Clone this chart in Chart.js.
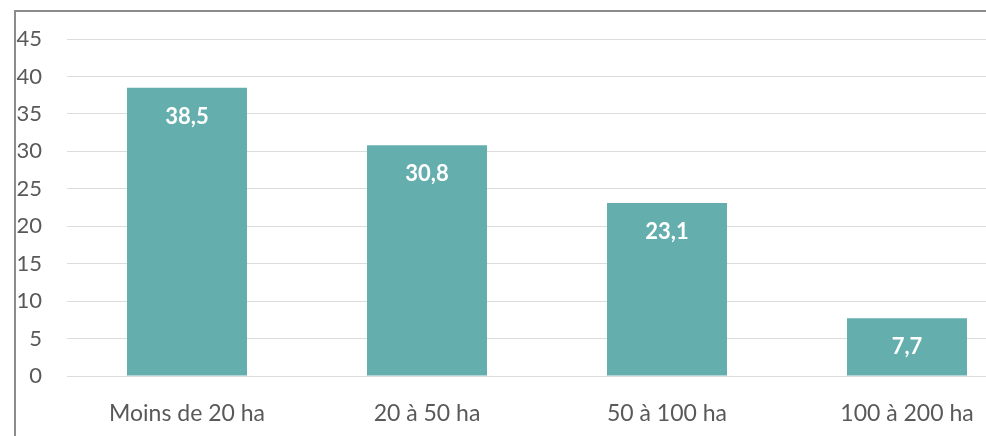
<!DOCTYPE html>
<html>
<head>
<meta charset="utf-8">
<script src="https://cdn.jsdelivr.net/npm/chart.js@4"></script>
<style>
  html, body { margin: 0; padding: 0; background: #fff; overflow: hidden; }
  #frame {
    position: absolute; left: 14px; top: 10px;
    width: 1100px; height: 500px;
    border-left: 2px solid #8c8c8c; border-top: 2px solid #8c8c8c;
  }
  #chart { position: absolute; left: 16px; top: 12px; }
</style>
</head>
<body>
<div id="frame"></div>
<canvas id="chart" width="1011" height="424"></canvas>
<script>
const categories = ["Moins de 20 ha", "20 à 50 ha", "50 à 100 ha", "100 à 200 ha"];
const shares = [38.5, 30.8, 23.1, 7.7];
const yTicks = [0, 5, 10, 15, 20, 25, 30, 35, 40, 45];

const fontFamily = "Lato, 'Open Sans', sans-serif";

// white value labels inside the top of each bar
const barLabels = {
  id: "barLabels",
  afterDatasetsDraw(chart) {
    const ctx = chart.ctx;
    const meta = chart.getDatasetMeta(0);
    ctx.save();
    ctx.fillStyle = "#ffffff";
    ctx.font = "bold 22px " + fontFamily;
    ctx.textAlign = "center";
    ctx.textBaseline = "middle";
    meta.data.forEach((bar, i) => {
      const txt = shares[i].toFixed(1).replace(".", ",");
      ctx.fillText(txt, bar.x, bar.y + 29);
    });
    ctx.restore();
  }
};

new Chart(document.getElementById("chart"), {
  type: "bar",
  data: {
    labels: categories,
    datasets: [
      {
        data: shares,
        backgroundColor: "#65AEAE",
        categoryPercentage: 1,
        barPercentage: 0.5,
      },
    ],
  },
  options: {
    responsive: false,
    animation: false,
    layout: { padding: { top: 27, right: 0, bottom: 0, left: 0 } },
    plugins: {
      legend: { display: false },
      tooltip: { enabled: false },
    },
    scales: {
      x: {
        grid: { display: false },
        border: { display: false },
        ticks: {
          color: "#595959",
          font: { family: fontFamily, size: 23 },
          padding: 16,
          maxRotation: 0,
        },
        afterFit(axis) { axis.height = 60; },
      },
      y: {
        min: 0,
        max: 45,
        afterBuildTicks(axis) { axis.ticks = yTicks.map(v => ({ value: v })); },
        grid: { color: "#dcdcdc", lineWidth: 1, drawTicks: false },
        border: { display: false },
        ticks: {
          color: "#595959",
          font: { family: fontFamily, size: 22 },
          padding: 25,
        },
        afterFit(axis) {
          axis.width = 51;
          axis.paddingTop = 0;
          axis.paddingBottom = 0;
        },
      },
    },
  },
  plugins: [barLabels],
});
</script>
</body>
</html>
